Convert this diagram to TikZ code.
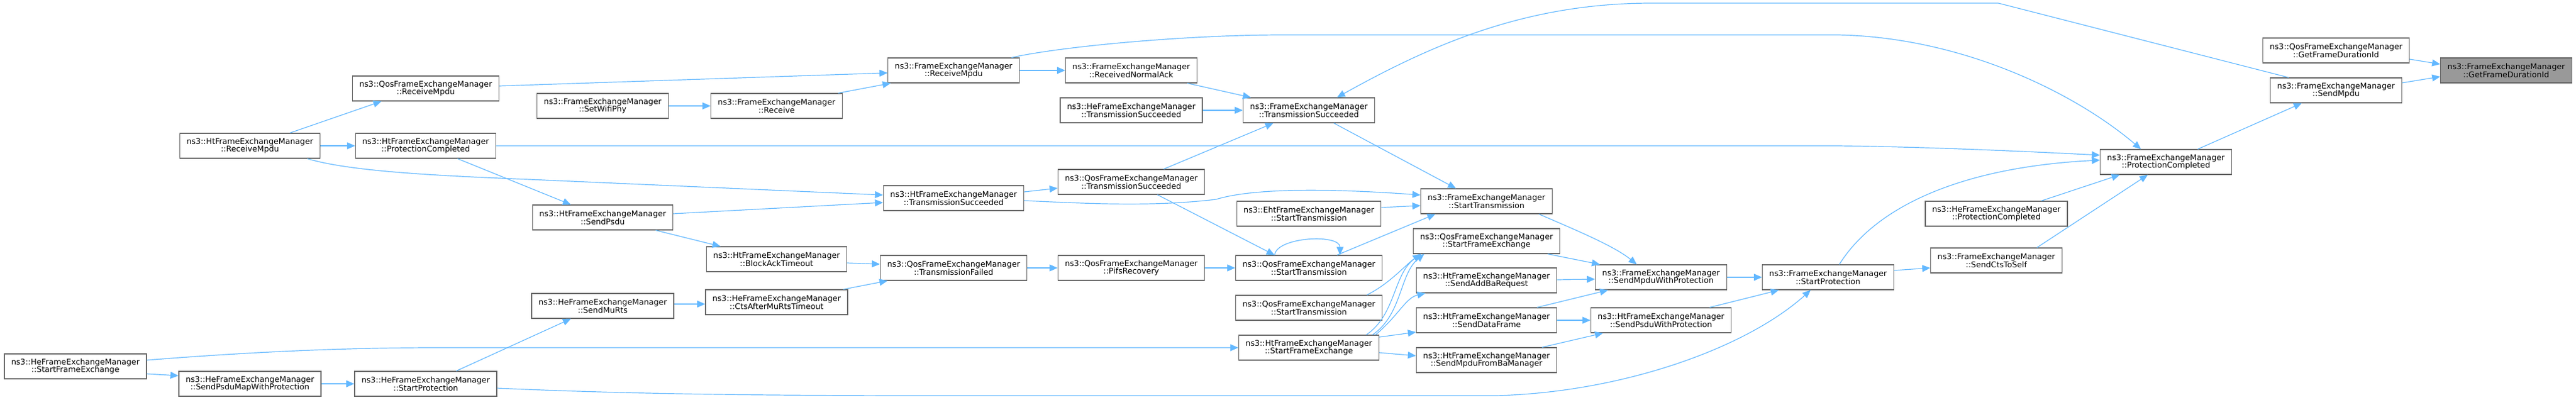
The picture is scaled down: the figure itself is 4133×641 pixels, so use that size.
\documentclass[tikz,border=0pt]{standalone}
\usepackage{fontspec}
\setmainfont{DejaVu Sans}
\usetikzlibrary{arrows.meta}
\definecolor{edgeblue}{HTML}{63B8FF}
\definecolor{boxgray}{HTML}{666666}
\definecolor{selgray}{HTML}{999999}
\begin{document}
\begin{tikzpicture}[x=1pt,y=-1pt,
    fn/.style={draw=boxgray,fill=white,line width=1.2pt,minimum height=40pt,inner xsep=11pt,inner ysep=0pt,align=center,font=\fontsize{12.7}{12.7}\selectfont},
    fnsel/.style={fn,fill=selgray},
    call/.style={draw=edgeblue,line width=1.2pt,-{Triangle[length=13pt,width=11pt]}}]
    \useasboundingbox (0,0) rectangle (4133,641);
    \node[fnsel] (target) at (4021,113) {ns3::FrameExchangeManager\\::GetFrameDurationId};
    \node[fn] (qgfdi) at (3748,81) {ns3::QosFrameExchangeManager\\::GetFrameDurationId};
    \node[fn] (sendmpdu) at (3748,145) {ns3::FrameExchangeManager\\::SendMpdu};
    \node[fn] (protcomp) at (3475,260) {ns3::FrameExchangeManager\\::ProtectionCompleted};
    \node[fn] (heprotcomp) at (3203,343) {ns3::HeFrameExchangeManager\\::ProtectionCompleted};
    \node[fn] (ctstoself) at (3203,418) {ns3::FrameExchangeManager\\::SendCtsToSelf};
    \node[fn] (startprot) at (2933,445) {ns3::FrameExchangeManager\\::StartProtection};
    \node[fn] (mpduwp) at (2665,445) {ns3::FrameExchangeManager\\::SendMpduWithProtection};
    \node[fn] (psduwp) at (2665,514) {ns3::HtFrameExchangeManager\\::SendPsduWithProtection};
    \node[fn] (startx) at (2385,323) {ns3::FrameExchangeManager\\::StartTransmission};
    \node[fn] (qsfe) at (2385,387) {ns3::QosFrameExchangeManager\\::StartFrameExchange};
    \node[fn] (addba) at (2385,450) {ns3::HtFrameExchangeManager\\::SendAddBaRequest};
    \node[fn] (dataframe) at (2385,514) {ns3::HtFrameExchangeManager\\::SendDataFrame};
    \node[fn] (mpdubam) at (2385,578) {ns3::HtFrameExchangeManager\\::SendMpduFromBaManager};
    \node[fn] (txsucc) at (2100,177) {ns3::FrameExchangeManager\\::TransmissionSucceeded};
    \node[fn] (ehtstart) at (2100,343) {ns3::EhtFrameExchangeManager\\::StartTransmission};
    \node[fn] (qstartA) at (2100,430) {ns3::QosFrameExchangeManager\\::StartTransmission};
    \node[fn] (qstartB) at (2100,494) {ns3::QosFrameExchangeManager\\::StartTransmission};
    \node[fn] (htsfe) at (2100,558) {ns3::HtFrameExchangeManager\\::StartFrameExchange};
    \node[fn] (rxnack) at (1815,113) {ns3::FrameExchangeManager\\::ReceivedNormalAck};
    \node[fn] (hetxsucc) at (1815,177) {ns3::HeFrameExchangeManager\\::TransmissionSucceeded};
    \node[fn] (qtxsucc) at (1815,292) {ns3::QosFrameExchangeManager\\::TransmissionSucceeded};
    \node[fn] (pifs) at (1815,430) {ns3::QosFrameExchangeManager\\::PifsRecovery};
    \node[fn] (rxmpdu) at (1530,113) {ns3::FrameExchangeManager\\::ReceiveMpdu};
    \node[fn] (httxsucc) at (1530,318) {ns3::HtFrameExchangeManager\\::TransmissionSucceeded};
    \node[fn] (txfailed) at (1530,430) {ns3::QosFrameExchangeManager\\::TransmissionFailed};
    \node[fn] (receive) at (1246,170) {ns3::FrameExchangeManager\\::Receive};
    \node[fn] (bato) at (1246,416) {ns3::HtFrameExchangeManager\\::BlockAckTimeout};
    \node[fn] (ctsmuto) at (1246,485) {ns3::HeFrameExchangeManager\\::CtsAfterMuRtsTimeout};
    \node[fn] (setphy) at (967,170) {ns3::FrameExchangeManager\\::SetWifiPhy};
    \node[fn] (sendpsdu) at (967,349) {ns3::HtFrameExchangeManager\\::SendPsdu};
    \node[fn] (mursts) at (967,491) {ns3::HeFrameExchangeManager\\::SendMuRts};
    \node[fn] (qrxmpdu) at (683,142) {ns3::QosFrameExchangeManager\\::ReceiveMpdu};
    \node[fn] (htprotcomp) at (683,234) {ns3::HtFrameExchangeManager\\::ProtectionCompleted};
    \node[fn] (hestartprot) at (683,616) {ns3::HeFrameExchangeManager\\::StartProtection};
    \node[fn] (htrxmpdu) at (401,234) {ns3::HtFrameExchangeManager\\::ReceiveMpdu};
    \node[fn] (psdumapwp) at (401,616) {ns3::HeFrameExchangeManager\\::SendPsduMapWithProtection};
    \node[fn] (hesfe) at (121,588) {ns3::HeFrameExchangeManager\\::StartFrameExchange};
    % calls into the selected function
    \draw[call] ([yshift=-14pt]qgfdi.east) -- ([yshift=10pt]target.west);
    \draw[call] ([yshift=12pt]sendmpdu.east) -- ([yshift=-10pt]target.west);
    \draw[call] ([xshift=51pt]protcomp.north) -- ([xshift=-55pt]sendmpdu.south);
    \draw[call] ([xshift=-76pt]sendmpdu.north) -- (3206,5) -- (2650,5) .. controls (2450,5) and (2300,70) .. ([xshift=45pt]txsucc.north);
    \draw[call] ([xshift=93pt]rxmpdu.north) .. controls (1700,75) and (1900,56) .. (2058,56) -- (2949,56) .. controls (3150,60) and (3330,150) .. ([xshift=-40pt]protcomp.north);
    \draw[call] (htprotcomp.east) -- (2949,234) .. controls (3100,236) and (3250,243) .. ([yshift=11pt]protcomp.west);
    \draw[call] ([xshift=18pt]startprot.north) .. controls (3010,330) and (3150,268) .. ([yshift=3pt]protcomp.west);
    \draw[call] ([xshift=72pt]heprotcomp.north) -- ([xshift=-74pt]protcomp.south);
    \draw[call] ([xshift=65pt]ctstoself.north) -- ([xshift=-29pt]protcomp.south);
    \draw[call] ([yshift=11pt]startprot.east) -- ([yshift=-12pt]ctstoself.west);
    \draw[call] (mpduwp.east) -- (startprot.west);
    \draw[call] ([xshift=78pt]psduwp.north) -- ([xshift=-79pt]startprot.south);
    \draw[call] ([yshift=-7pt]hestartprot.east) .. controls (1000,632) and (1200,635) .. (1500,635) -- (2400,635) .. controls (2600,630) and (2800,560) .. ([xshift=-28pt]startprot.south);
    % towards the protection step
    \draw[call] ([xshift=84pt]startx.south) .. controls (2530,370) and (2590,395) .. ([xshift=-39pt]mpduwp.north);
    \draw[call] ([xshift=98pt]qsfe.south) -- ([xshift=-98pt]mpduwp.north);
    \draw[call] ([yshift=1pt]addba.east) -- ([yshift=-3pt]mpduwp.west);
    \draw[call] ([xshift=81pt]dataframe.north) -- ([xshift=-85pt]mpduwp.south);
    \draw[call] (dataframe.east) -- (psduwp.west);
    \draw[call] ([xshift=89pt]mpdubam.north) -- ([xshift=-93pt]psduwp.south);
    % transmission succeeded / start transmission
    \draw[call] (rxmpdu.east) -- (rxnack.west);
    \draw[call] ([xshift=90pt]rxnack.south) -- ([xshift=-93pt]txsucc.north);
    \draw[call] (hetxsucc.east) -- (txsucc.west);
    \draw[call] ([xshift=52pt]qtxsucc.north) -- ([xshift=-57pt]txsucc.south);
    \draw[call] ([xshift=40pt]txsucc.south) -- ([xshift=-49pt]startx.north);
    \draw[call] ([yshift=10pt]httxsucc.east) -- ([yshift=-10pt]qtxsucc.west);
    \draw[call] ([yshift=-4pt]httxsucc.east) .. controls (1750,327) and (1850,332) .. (1951,320) .. controls (2000,305) and (2100,300) .. ([yshift=10pt]startx.west);
    \draw[call] ([xshift=42pt]qtxsucc.south) -- ([xshift=-55pt]qstartA.north);
    \draw[call] ([xshift=-55pt]qstartA.north) .. controls (2048,380) and (2150,375) .. ([xshift=50pt]qstartA.north);
    \draw[call] ([xshift=45pt]qstartA.north) -- ([xshift=-82pt]startx.south);
    \draw[call] ([yshift=10pt]ehtstart.east) -- ([yshift=-7pt]startx.west);
    \draw[call] (pifs.east) -- (qstartA.west);
    \draw[call] (txfailed.east) -- (pifs.west);
    % frame exchange
    \draw[call] ([xshift=93pt]qstartB.north) .. controls (2230,455) and (2255,425) .. ([xshift=-105pt]qsfe.south);
    \draw[call] ([xshift=92pt]htsfe.north) .. controls (2240,505) and (2235,440) .. ([xshift=-105pt]qsfe.south);
    \draw[call] ([xshift=102pt]htsfe.north) .. controls (2250,505) and (2245,440) .. ([xshift=-100pt]qsfe.south);
    \draw[call] ([xshift=107pt]htsfe.north) .. controls (2245,505) and (2255,478) .. ([xshift=-98pt]addba.south);
    \draw[call] ([yshift=17pt]htsfe.east) -- ([yshift=-19pt]dataframe.west);
    \draw[call] ([yshift=-8pt]htsfe.east) -- ([yshift=7pt]mpdubam.west);
    \draw[call] ([yshift=10pt]hesfe.east) .. controls (400,565) and (550,558) .. (700,558) -- (htsfe.west);
    \draw[call] ([yshift=-12pt]hesfe.east) -- ([yshift=13pt]psdumapwp.west);
    \draw[call] (psdumapwp.east) -- (hestartprot.west);
    % timeouts and failures
    \draw[call] ([xshift=49pt]hestartprot.north) -- ([xshift=-51pt]mursts.south);
    \draw[call] ([yshift=3pt]mursts.east) -- ([yshift=-3pt]ctsmuto.west);
    \draw[call] ([xshift=107pt]ctsmuto.north) -- ([xshift=-106pt]txfailed.south);
    \draw[call] ([yshift=-6pt]bato.east) -- ([yshift=6pt]txfailed.west);
    \draw[call] ([xshift=85pt]sendpsdu.south) -- ([xshift=-90pt]bato.north);
    \draw[call] ([yshift=6pt]sendpsdu.east) -- ([yshift=-7pt]httxsucc.west);
    \draw[call] ([xshift=51pt]htprotcomp.south) -- ([xshift=-51pt]sendpsdu.north);
    % receive side
    \draw[call] (htrxmpdu.east) -- (htprotcomp.west);
    \draw[call] ([xshift=64pt]htrxmpdu.north) -- ([xshift=-71pt]qrxmpdu.south);
    \draw[call] ([xshift=92pt]htrxmpdu.south) .. controls (560,275) and (700,282) .. (850,288) -- ([yshift=5pt]httxsucc.west);
    \draw[call] ([yshift=4pt]qrxmpdu.east) -- ([yshift=-4pt]rxmpdu.west);
    \draw[call] (setphy.east) -- (receive.west);
    \draw[call] ([xshift=99pt]receive.north) -- ([xshift=-101pt]rxmpdu.south);
\end{tikzpicture}
\end{document}
